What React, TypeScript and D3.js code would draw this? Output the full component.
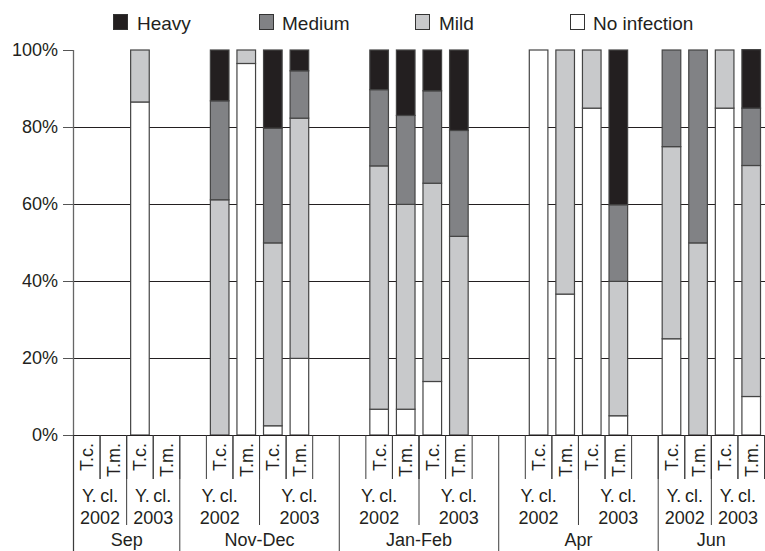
import React from "react";
import * as d3 from "d3";

const months = ["Sep", "Nov-Dec", "Jan-Feb", "Apr", "Jun"];
const years = ["2002", "2003"];
const species = ["T.c.", "T.m."];
const monthPadding = [0, 1, 1, 1, 0];

// bars ordered month -> year -> species (percent)
const heavy = [0, 0, 0, 0, 13.2, 0, 20.3, 5.4, 10.3, 17.0, 10.6, 20.9, 0, 0, 0, 40.2, 0, 0, 0, 15.2];
const medium = [0, 0, 0, 0, 25.7, 0, 29.8, 12.3, 19.8, 23.1, 24.0, 27.5, 0, 0, 0, 19.9, 25.1, 50.1, 0, 14.9];
const mild = [0, 0, 13.5, 0, 61.1, 3.5, 47.5, 62.4, 63.2, 53.2, 51.5, 51.6, 0, 63.4, 15.1, 34.9, 49.9, 49.9, 15.1, 60.0];
const noInfection = [0, 0, 86.5, 0, 0, 96.5, 2.4, 19.9, 6.7, 6.7, 13.9, 0, 100, 36.6, 84.9, 5.0, 25.0, 0, 84.9, 10.0];

const yTicks = [0, 20, 40, 60, 80, 100];

const seriesKeys = ["noInfection", "mild", "medium", "heavy"];
const seriesColors: Record<string, string> = {
  heavy: "#231f20",
  medium: "#818285",
  mild: "#c8c9cb",
  noInfection: "#ffffff",
};
const legendItems = [
  { key: "heavy", label: "Heavy", x: 113, tx: 137 },
  { key: "medium", label: "Medium", x: 259, tx: 282 },
  { key: "mild", label: "Mild", x: 415, tx: 439 },
  { key: "noInfection", label: "No infection", x: 570, tx: 593 },
];

const FONT = "'Liberation Sans', Arial, Helvetica, sans-serif";

export default function App() {
  const W = 765;
  const H = 551;
  const left = 73.5;
  const right = 764.5;
  const top = 50;
  const bottom = 435;

  const bars: any[] = [];
  months.forEach((m, mi) => {
    years.forEach((yv, yi) => {
      species.forEach((s, si) => {
        const i = mi * 4 + yi * 2 + si;
        bars.push({
          id: `${m}|${yv}|${s}`,
          month: m,
          mi,
          year: yv,
          species: s,
          heavy: heavy[i],
          medium: medium[i],
          mild: mild[i],
          noInfection: noInfection[i],
        });
      });
    });
  });

  const slots: string[] = [];
  months.forEach((m, mi) => {
    for (let p = 0; p < monthPadding[mi]; p++) slots.push(`${m}|padL${p}`);
    bars.filter((b) => b.mi === mi).forEach((b) => slots.push(b.id));
    for (let p = 0; p < monthPadding[mi]; p++) slots.push(`${m}|padR${p}`);
  });

  const x = d3.scaleBand<string>().domain(slots).range([left, right]).padding(0);
  const bw = x.bandwidth();
  const barW = bw * 0.7;
  const y = d3.scaleLinear().domain([0, 100]).range([bottom, top]);

  const stacked = d3.stack<any>().keys(seriesKeys)(bars);

  const monthStart = (mi: number) => {
    const first = monthPadding[mi] > 0 ? `${months[mi]}|padL0` : bars.find((b) => b.mi === mi).id;
    return x(first)!;
  };
  const monthEnd = (mi: number) => {
    const last = monthPadding[mi] > 0 ? `${months[mi]}|padR${monthPadding[mi] - 1}` : bars.filter((b) => b.mi === mi)[3].id;
    return x(last)! + bw;
  };

  const lineColor = "#3c3c3c";

  return (
    <svg width={W} height={H} style={{ position: "absolute", left: 0, top: 0, background: "#fff" }} fontFamily={FONT}>
      <rect x={0} y={0} width={W} height={H} fill="#fff" />
      {legendItems.map((l) => (
        <g key={l.key}>
          <rect x={l.x + 0.5} y={14.5} width={14} height={15} fill={seriesColors[l.key]} stroke="#333" strokeWidth={1} />
          <text x={l.tx} y={30} fontSize={19} fill="#231f20">
            {l.label}
          </text>
        </g>
      ))}
      {yTicks
        .filter((t) => t > 0 && t < 100)
        .map((t) => (
          <line key={t} x1={left} x2={W} y1={Math.round(y(t)) + 0.5} y2={Math.round(y(t)) + 0.5} stroke="#231f20" strokeWidth={1} />
        ))}
      {yTicks.map((t) => (
        <g key={"t" + t}>
          <line x1={63} x2={left} y1={Math.round(y(t)) + 0.5} y2={Math.round(y(t)) + 0.5} stroke="#555" strokeWidth={1} />
          <text x={58} y={y(t)} dy="0.36em" textAnchor="end" fontSize={18} fill="#231f20">
            {t}%
          </text>
        </g>
      ))}
      {stacked.map((series) =>
        series.map((d: any, i: number) => {
          const v = d[1] - d[0];
          if (v <= 0) return null;
          const b = bars[i];
          const bx = x(b.id)! + (bw - barW) / 2;
          return (
            <rect
              key={series.key + i}
              x={bx}
              y={y(d[1])}
              width={barW}
              height={y(d[0]) - y(d[1])}
              fill={seriesColors[series.key]}
              stroke="#444"
              strokeWidth={1.2}
            />
          );
        })
      )}
      <line x1={left} x2={left} y1={top} y2={H} stroke="#666" strokeWidth={1.3} />
      <line x1={left} x2={W} y1={bottom + 0.5} y2={bottom + 0.5} stroke="#231f20" strokeWidth={1.2} />
      {bars.map((b) => {
        const x0 = x(b.id)!;
        return (
          <g key={"s" + b.id}>
            <line x1={x0} x2={x0} y1={bottom} y2={479} stroke={lineColor} strokeWidth={1} />
            <line x1={x0 + bw} x2={x0 + bw} y1={bottom} y2={479} stroke={lineColor} strokeWidth={1} />
            <text
              transform={`translate(${x0 + bw / 2},443) rotate(-90)`}
              textAnchor="end"
              dy="0.36em"
              fontSize={18}
              fill="#231f20"
            >
              {b.species}
            </text>
          </g>
        );
      })}
      {months.map((m, mi) => {
        const mb = bars.filter((bb) => bb.mi === mi);
        const mid = x(mb[2].id)!;
        const s = monthStart(mi);
        const e = monthEnd(mi);
        const groups = [
          [s, mid],
          [mid, e],
        ];
        return (
          <g key={"y" + m}>
            <line x1={mid} x2={mid} y1={bottom} y2={525} stroke={lineColor} strokeWidth={1} />
            {groups.map((g, gi) => (
              <g key={gi}>
                <text x={(g[0] + g[1]) / 2} y={502} textAnchor="middle" fontSize={18} fill="#231f20">
                  {"Y.\u2009cl."}
                </text>
                <text x={(g[0] + g[1]) / 2} y={524} textAnchor="middle" fontSize={18} fill="#231f20">
                  {years[gi]}
                </text>
              </g>
            ))}
            <line x1={s} x2={s} y1={bottom} y2={H} stroke={lineColor} strokeWidth={1} />
            <text x={(s + e) / 2} y={546} textAnchor="middle" fontSize={18} fill="#231f20">
              {m}
            </text>
          </g>
        );
      })}
    </svg>
  );
}
